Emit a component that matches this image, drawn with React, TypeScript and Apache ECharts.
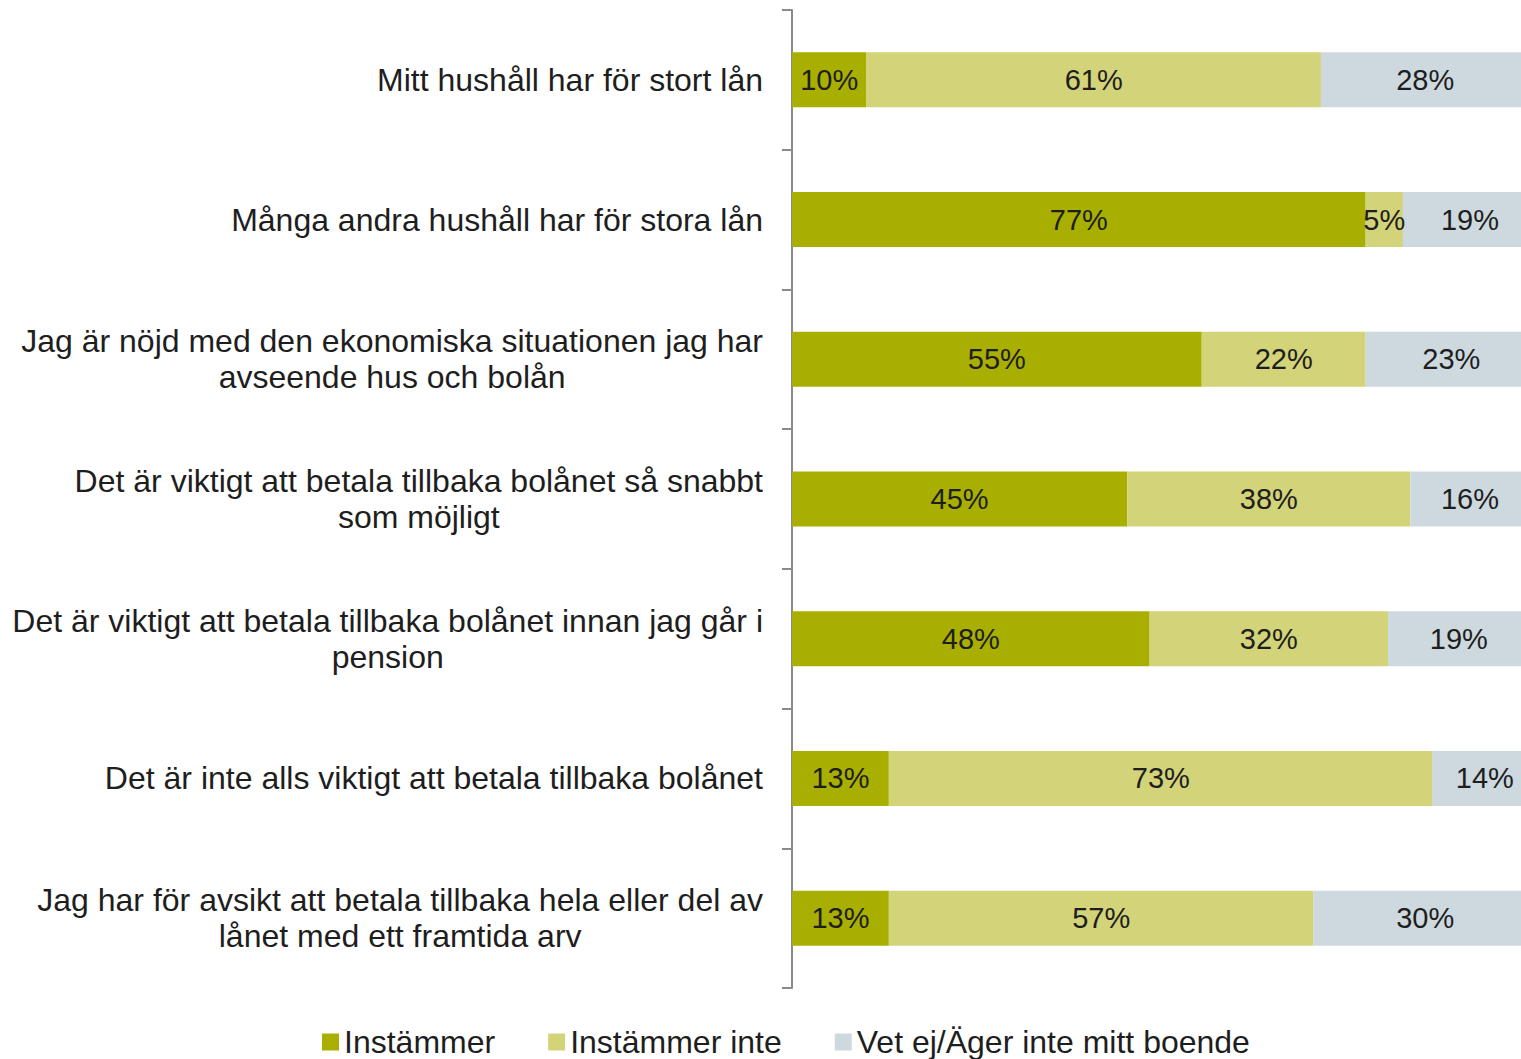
import React, { useEffect, useRef } from "react";
import * as echarts from "echarts";

const categories = [
  "Mitt hushåll har för stort lån",
  "Många andra hushåll har för stora lån",
  "Jag är nöjd med den ekonomiska situationen jag har\navseende hus och bolån",
  "Det är viktigt att betala tillbaka bolånet så snabbt\nsom möjligt",
  "Det är viktigt att betala tillbaka bolånet innan jag går i\npension",
  "Det är inte alls viktigt att betala tillbaka bolånet",
  "Jag har för avsikt att betala tillbaka hela eller del av\nlånet med ett framtida arv",
];
const seriesNames = ["Instämmer", "Instämmer inte", "Vet ej/Äger inte mitt boende"];
const instammer = [10, 77, 55, 45, 48, 13, 13];
const instammerInte = [61, 5, 22, 38, 32, 73, 57];
const vetEj = [28, 19, 23, 16, 19, 14, 30];

const colors = ["#A9AF00", "#D3D379", "#CED9DF"];
const FONT = "'Liberation Sans', Arial, Helvetica, sans-serif";
const TEXT = "#1E1E1E";

export default function App() {
  const ref = useRef<HTMLDivElement>(null);
  useEffect(() => {
    if (!ref.current) return;
    const chart = echarts.init(ref.current, undefined, { renderer: "svg" });
    const dataSets = [instammer, instammerInte, vetEj];
    chart.setOption({
      animation: false,
      textStyle: { fontFamily: FONT },
      color: colors,
      grid: { left: 792, right: 0, top: 10, bottom: 71, containLabel: false },
      legend: {
        left: 317,
        top: 1020,
        icon: "rect",
        itemWidth: 17,
        itemHeight: 17,
        itemGap: 53,
        textStyle: { fontSize: 32, color: TEXT, fontFamily: FONT, lineHeight: 34 },
        data: seriesNames,
      },
      xAxis: {
        type: "value",
        min: 0,
        max: 100,
        show: false,
        splitLine: { show: false },
      },
      yAxis: {
        type: "category",
        inverse: true,
        data: categories,
        axisLine: { show: true, lineStyle: { color: "#8A8A8A", width: 2 } },
        axisTick: { show: true, length: 10, lineStyle: { color: "#8A8A8A", width: 2 } },
        axisLabel: {
          margin: 29,
          align: "right",
          formatter: (v: string) =>
            v
              .split("\n")
              .map((l) => `{c|${l}}`)
              .join("\n"),
          rich: {
            c: {
              align: "center",
              fontSize: 32,
              lineHeight: 36,
              color: TEXT,
              fontFamily: FONT,
            },
          },
        },
      },
      series: seriesNames.map((name, i) => ({
        name,
        type: "bar",
        stack: "total",
        barWidth: 55,
        data: dataSets[i],
        itemStyle: { color: colors[i] },
        label: {
          show: true,
          position: "inside",
          formatter: "{c}%",
          fontSize: 29,
          color: TEXT,
          fontFamily: FONT,
        },
      })),
    });
    return () => chart.dispose();
  }, []);
  return (
    <div
      style={{
        position: "absolute",
        left: 0,
        top: 0,
        width: 1521,
        height: 1059,
        overflow: "hidden",
        background: "#fff",
      }}
    >
      <div ref={ref} style={{ width: 1537, height: 1059 }} />
    </div>
  );
}
